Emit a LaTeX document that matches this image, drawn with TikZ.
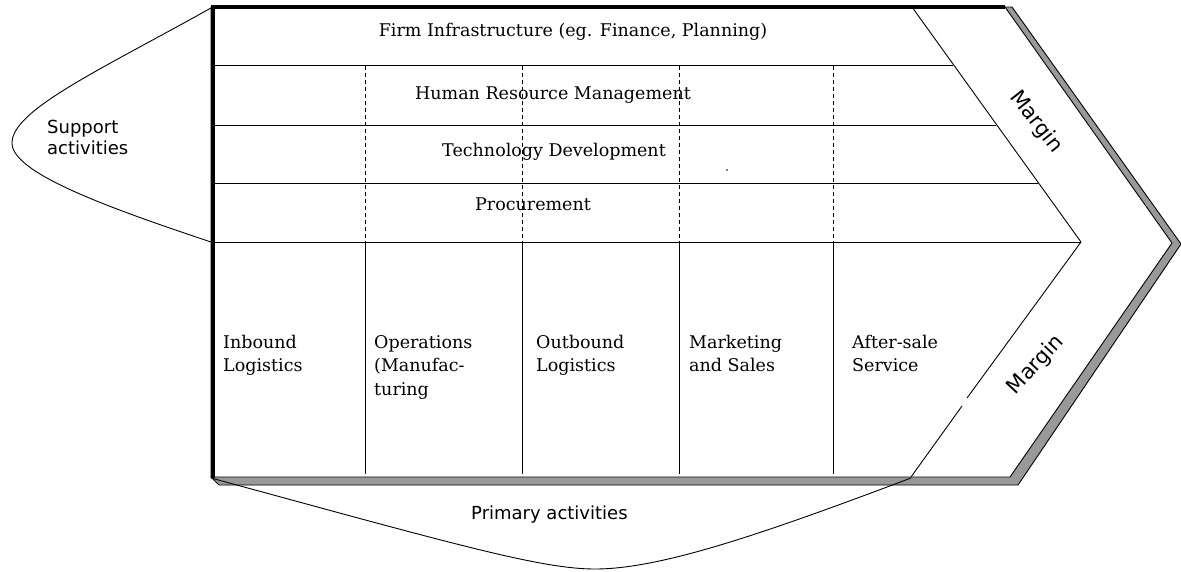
\documentclass[tikz,border=0pt]{standalone}
\usepackage{fontspec}
\newfontfamily\chainserif{DejaVu Serif}
\newfontfamily\chainsans{DejaVu Sans}

\begin{document}
\begin{tikzpicture}[x=1pt,y=1pt,yscale=-1,xscale=1,
  serif label/.style={inner sep=0pt,font=\chainserif\fontsize{17.5}{23.5}\selectfont},
  sans label/.style={inner sep=0pt,font=\chainsans\fontsize{18}{21}\selectfont},
  margin label/.style={inner sep=0pt,font=\chainsans\fontsize{21}{21}\selectfont},
  thin line/.style={line width=0.9pt},
  dot line/.style={line width=0.9pt,dash pattern=on 4pt off 3pt}]
\useasboundingbox (0,0) rectangle (1181,571);

%Shape: Polygon [id:shadow] 
\draw [thin line, fill=black!40] (1005,7) -- (1012,7) -- (1181,244) -- (1018,485) -- (219,485) -- (211,477) -- cycle ;
%Shape: Polygon [id:chain] 
\draw [thin line, fill=white] (211,7) -- (1005,7) -- (1172,243) -- (1010,477) -- (211,477) -- cycle ;
%Straight Lines [id:top] 
\draw [line width=4pt]   (211,7) -- (1005,7) ;
%Straight Lines [id:left] 
\draw [line width=4.5pt]   (213,5) -- (213,478) ;

%Straight Lines [id:marginup] 
\draw [thin line]   (912,7) -- (1081,242) ;
%Straight Lines [id:margindown] 
\draw [thin line]   (1081,242) -- (967,398) ;
\draw [thin line]   (962,406) -- (911,477) ;

%Straight Lines [id:row1] 
\draw [thin line]   (213,65) -- (953,65) ;
%Straight Lines [id:row2] 
\draw [thin line]   (213,125) -- (996,125) ;
%Straight Lines [id:row3] 
\draw [thin line]   (213,183) -- (1038,183) ;
%Straight Lines [id:row4] 
\draw [thin line]   (213,242) -- (1081,242) ;

%Straight Lines [id:dash1] 
\draw [dot line]   (365,66) -- (365,242) ;
%Straight Lines [id:dash2] 
\draw [dot line]   (522,66) -- (522,242) ;
%Straight Lines [id:dash3] 
\draw [dot line]   (679,66) -- (679,242) ;
%Straight Lines [id:dash4] 
\draw [dot line]   (833,66) -- (833,242) ;

%Straight Lines [id:col1] 
\draw [thin line]   (365,242) -- (365,474) ;
%Straight Lines [id:col2] 
\draw [thin line]   (522,242) -- (522,474) ;
%Straight Lines [id:col3] 
\draw [thin line]   (679,242) -- (679,474) ;
%Straight Lines [id:col4] 
\draw [thin line]   (833,242) -- (833,474) ;

%Curve Lines [id:support] 
\draw [thin line]   (211,8) .. controls (100,70) and (12,110) .. (12,143) .. controls (12,172) and (100,205) .. (211,242) ;
%Curve Lines [id:primary] 
\draw [thin line]   (211,478) .. controls (450,543) and (540,569) .. (595,569) .. controls (660,569) and (760,535) .. (911,478) ;

%Shape: Circle [id:speck] 
\fill (727,170) circle (0.8) ;

% Text Node
\draw (573,36) node [serif label, anchor=base] (firm) {Firm Infrastructure (eg. Finance, Planning)};
% Text Node
\draw (553,99) node [serif label, anchor=base] (hrm) {Human Resource Management};
% Text Node
\draw (554,156) node [serif label, anchor=base] (tech) {Technology Development};
% Text Node
\draw (533,210) node [serif label, anchor=base] (proc) {Procurement};
% Text Node
\draw (223,371.5) node [serif label, anchor=base west, align=left] (inbound) {Inbound\\Logistics};
% Text Node
\draw (374,395) node [serif label, anchor=base west, align=left] (operations) {Operations\\(Manufac-\\turing};
% Text Node
\draw (536,371.5) node [serif label, anchor=base west, align=left] (outbound) {Outbound\\Logistics};
% Text Node
\draw (689,371.5) node [serif label, anchor=base west, align=left] (marketing) {Marketing\\and Sales};
% Text Node
\draw (852,371.5) node [serif label, anchor=base west, align=left] (service) {After-sale\\Service};
% Text Node
\draw (47,154) node [sans label, anchor=base west, align=left] (support) {Support\\activities};
% Text Node
\draw (471,519) node [sans label, anchor=base west] (primary) {Primary activities};
% Text Node
\draw (1036,122) node [margin label, rotate=-52] (marginsup) {Margin};
% Text Node
\draw (1036,365) node [margin label, rotate=47] (marginpri) {Margin};

\end{tikzpicture}
\end{document}
